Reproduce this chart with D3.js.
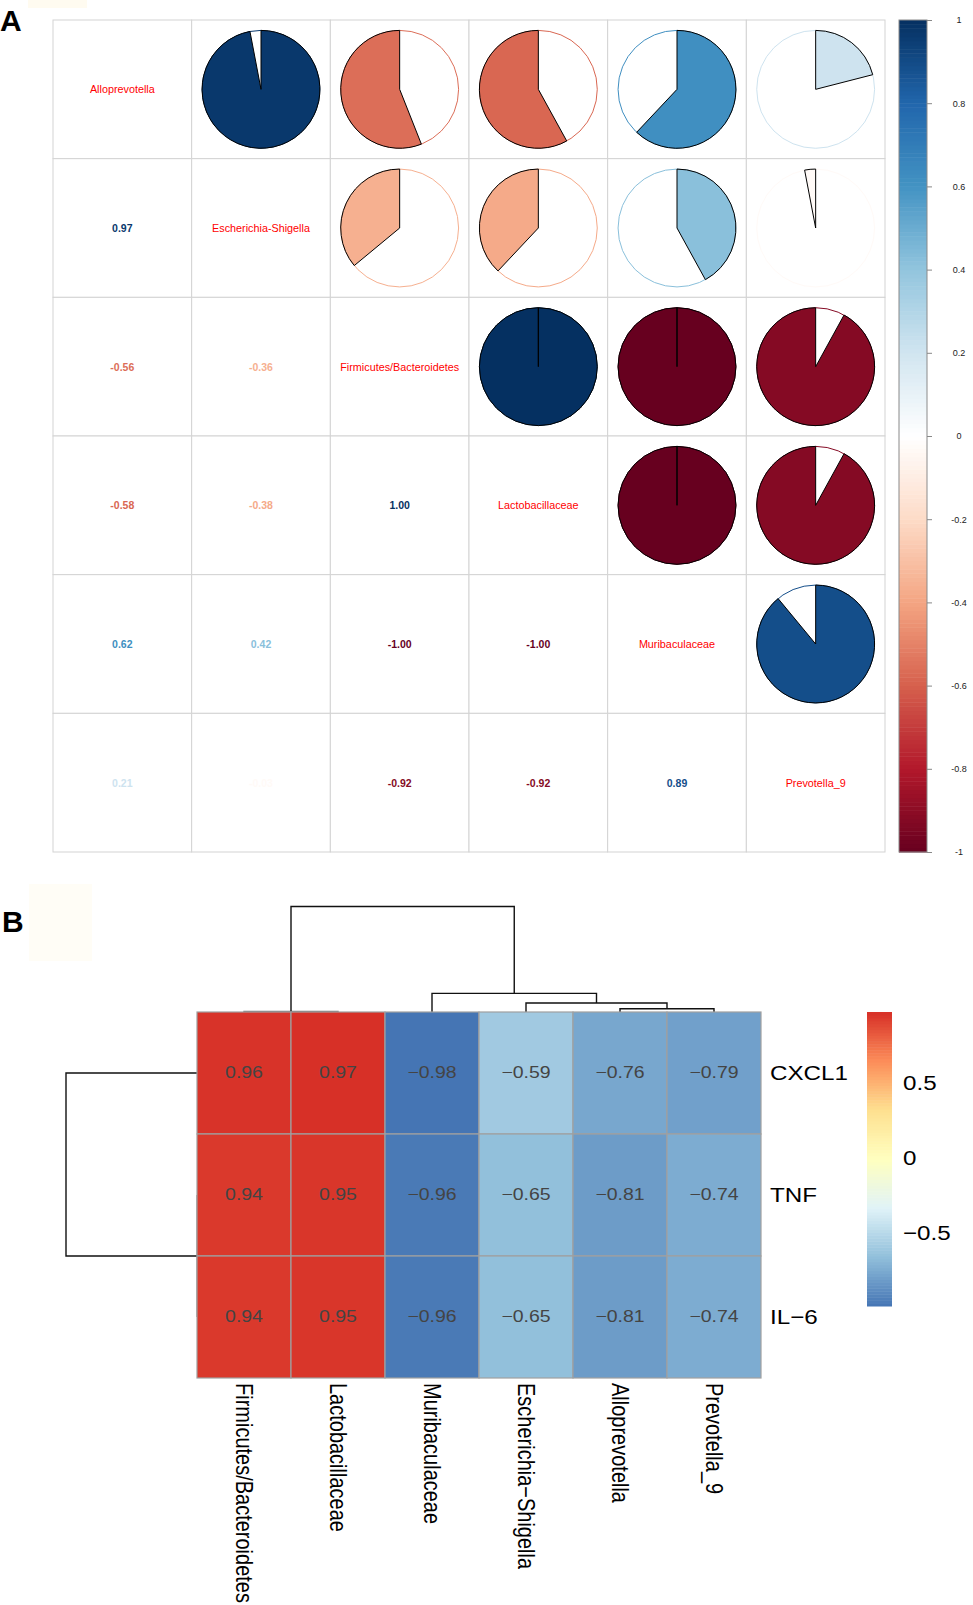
<!DOCTYPE html>
<html><head><meta charset="utf-8">
<script src="https://cdn.jsdelivr.net/npm/d3@7"></script>
<style>body{margin:0;background:#fff}svg{display:block}</style>
</head><body>
<script>
// ---------- Panel A data (corrplot) ----------
const varsA = ["Alloprevotella","Escherichia-Shigella","Firmicutes/Bacteroidetes","Lactobacillaceae","Muribaculaceae","Prevotella_9"];
const corrA = [
  [1.00, 0.97, -0.56, -0.58, 0.62, 0.21],
  [0.97, 1.00, -0.36, -0.38, 0.42, -0.03],
  [-0.56, -0.36, 1.00, 1.00, -1.00, -0.92],
  [-0.58, -0.38, 1.00, 1.00, -1.00, -0.92],
  [0.62, 0.42, -1.00, -1.00, 1.00, 0.89],
  [0.21, -0.03, -0.92, -0.92, 0.89, 1.00]
];
const legendTicksA = [1, 0.8, 0.6, 0.4, 0.2, 0, -0.2, -0.4, -0.6, -0.8, -1];
const corrColors = ["#67001F","#B2182B","#D6604D","#F4A582","#FDDBC7","#FFFFFF","#D1E5F0","#92C5DE","#4393C3","#2166AC","#053061"];

// ---------- Panel B data (pheatmap) ----------
const heatCols = ["Firmicutes/Bacteroidetes","Lactobacillaceae","Muribaculaceae","Escherichia-Shigella","Alloprevotella","Prevotella_9"];
const heatRows = ["CXCL1","TNF","IL-6"];
const heatVals = [
  [0.96, 0.97, -0.98, -0.59, -0.76, -0.79],
  [0.94, 0.95, -0.96, -0.65, -0.81, -0.74],
  [0.94, 0.95, -0.96, -0.65, -0.81, -0.74]
];
const heatColors = ["#4575B4","#91BFDB","#E0F3F8","#FFFFBF","#FEE090","#FC8D59","#D73027"];
const heatLegendTicks = [0.5, 0, -0.5];
// dendrogram merges (leaf index or "m<k>" reference, merge height)
const colMerges = [
  {a:0, b:1, h:0.017},
  {a:4, b:5, h:0.103},
  {a:3, b:"m1", h:0.285},
  {a:2, b:"m2", h:0.587},
  {a:"m0", b:"m3", h:3.33}
];
const rowMerges = [
  {a:1, b:2, h:0},
  {a:0, b:"m0", h:0.0975}
];

const W = 973, H = 1605;
const FONT = "'Liberation Sans', Arial, Helvetica, sans-serif";
const svg = d3.select("body").append("svg").attr("width", W).attr("height", H)
  .style("font-family", FONT);
svg.append("rect").attr("width", W).attr("height", H).attr("fill", "#fff");

// faint artefacts
svg.append("rect").attr("x",28).attr("y",0).attr("width",59).attr("height",8).attr("fill","#fffbf0");
svg.append("rect").attr("x",29).attr("y",884).attr("width",63).attr("height",77).attr("fill","#fffdf6");

// panel letters
svg.append("text").attr("x",0).attr("y",31).attr("font-size",30).attr("font-weight","bold").text("A");
svg.append("text").attr("x",2).attr("y",932).attr("font-size",30).attr("font-weight","bold").text("B");

// ================= Panel A =================
const ax0 = 53, ay0 = 20, aSize = 832;
const n = varsA.length;
const bx = d3.scaleBand().domain(d3.range(n)).range([ax0, ax0 + aSize]);
const by = d3.scaleBand().domain(d3.range(n)).range([ay0, ay0 + aSize]);
const cs = bx.bandwidth();
const colorA = d3.scaleLinear()
  .domain(d3.range(corrColors.length).map(i => -1 + i * 2 / (corrColors.length - 1)))
  .range(corrColors).interpolate(d3.interpolateRgb).clamp(true);

const gA = svg.append("g");
// grid
for (let i = 0; i < n; i++) for (let j = 0; j < n; j++) {
  gA.append("rect").attr("x", bx(j)).attr("y", by(i)).attr("width", cs).attr("height", cs)
    .attr("fill", "#fff").attr("stroke", "#d3d3d3").attr("stroke-width", 1);
}
function piePath(cx, cy, r, v) {
  const a = Math.abs(v) * 2 * Math.PI;
  const sweep = v >= 0 ? 1 : 0;
  const sgn = v >= 0 ? 1 : -1;
  const top = [cx, cy - r];
  if (Math.abs(v) >= 0.9999) {
    const bot = [cx, cy + r];
    return `M${cx},${cy}L${top[0]},${top[1]}A${r},${r} 0 1 ${sweep} ${bot[0]},${bot[1]}A${r},${r} 0 1 ${sweep} ${top[0]},${top[1]}Z`;
  }
  const ex = cx + sgn * r * Math.sin(a), ey = cy - r * Math.cos(a);
  const large = a > Math.PI ? 1 : 0;
  return `M${cx},${cy}L${top[0]},${top[1]}A${r},${r} 0 ${large} ${sweep} ${ex},${ey}Z`;
}
const rPie = cs * 0.425;
for (let i = 0; i < n; i++) for (let j = 0; j < n; j++) {
  const cx = bx(j) + cs / 2, cy = by(i) + cs / 2, v = corrA[i][j];
  if (i === j) {
    gA.append("text").attr("x", cx).attr("y", cy).attr("text-anchor", "middle")
      .attr("dominant-baseline", "central").attr("font-size", 10.8).attr("fill", "#ff0000").text(varsA[i]);
  } else if (j > i) {
    const c = colorA(v);
    gA.append("circle").attr("cx", cx).attr("cy", cy).attr("r", rPie)
      .attr("fill", "#fff").attr("stroke", c).attr("stroke-width", 1);
    gA.append("path").attr("d", piePath(cx, cy, rPie, v)).attr("fill", c)
      .attr("stroke", "#000").attr("stroke-width", 1).attr("stroke-linejoin", "round");
  } else {
    gA.append("text").attr("x", cx).attr("y", cy).attr("text-anchor", "middle")
      .attr("dominant-baseline", "central").attr("font-size", 10.5).attr("font-weight", "bold")
      .attr("fill", colorA(v)).text(v.toFixed(2));
  }
}
// colour legend A
const cbX = 899, cbW = 28;
const yLegA = d3.scaleLinear().domain([-1, 1]).range([ay0 + aSize, ay0]);
const nb = 200;
for (let k = 0; k < nb; k++) {
  const lo = -1 + k * 2 / nb, hi = lo + 2 / nb;
  gA.append("rect").attr("x", cbX).attr("y", yLegA(hi)).attr("width", cbW)
    .attr("height", yLegA(lo) - yLegA(hi) + 0.5).attr("fill", colorA((lo + hi) / 2));
}
gA.append("rect").attr("x", cbX).attr("y", ay0).attr("width", cbW).attr("height", aSize)
  .attr("fill", "none").attr("stroke", "#8a8a8a").attr("stroke-width", 1);
const axA = gA.append("g").attr("transform", `translate(${cbX + cbW},0)`)
  .call(d3.axisRight(yLegA).tickValues(legendTicksA).tickSize(5).tickFormat(d => String(d)));
axA.select(".domain").remove();
axA.selectAll("line").attr("stroke", "#888");
axA.selectAll("text").attr("x", 32).attr("text-anchor", "middle").attr("font-size", 9)
  .attr("font-family", FONT).attr("fill", "#222");

// ================= Panel B =================
const SX = 1.18;
const hx0 = 197, hx1 = 761, hy0 = 1012, hy1 = 1378;
const xB = d3.scaleBand().domain(d3.range(heatCols.length)).range([hx0, hx1]);
const yB = d3.scaleBand().domain(d3.range(heatRows.length)).range([hy0, hy1]);
const ext = d3.extent(heatVals.flat());
const colorB = d3.scaleLinear()
  .domain(d3.range(heatColors.length).map(i => ext[0] + i * (ext[1] - ext[0]) / (heatColors.length - 1)))
  .range(heatColors).interpolate(d3.interpolateRgb);
const minus = s => s.replace(/-/g, "\u2212");
const gB = svg.append("g");

function sText(g, x, y, txt, size, rot) {
  const t = g.append("text").attr("transform", `translate(${x},${y}) scale(${SX},1)` + (rot ? ` rotate(${rot})` : ""))
    .attr("font-size", size).text(txt);
  return t;
}

// dendrograms
function layoutTree(merges, leafPos) {
  const nodes = {};
  const get = r => typeof r === "number" ? {p: leafPos(r), h: 0} : nodes[r];
  merges.forEach((m, i) => {
    const A = get(m.a), B = get(m.b);
    nodes["m" + i] = {p: (A.p + B.p) / 2, h: m.h, A, B};
  });
  return merges.map((m, i) => nodes["m" + i]);
}
const colTree = layoutTree(colMerges, j => xB(j) + xB.bandwidth() / 2);
const yDen = d3.scaleLinear().domain([0, d3.max(colMerges, d => d.h)]).range([hy0, 906.5]);
colTree.forEach(nd => {
  gB.append("path")
    .attr("d", `M${nd.A.p},${yDen(nd.A.h)}V${yDen(nd.h)}H${nd.B.p}V${yDen(nd.B.h)}`)
    .attr("fill", "none").attr("stroke", nd.h < 0.05 ? "#777" : "#111").attr("stroke-width", 1.4);
});
const rowTree = layoutTree(rowMerges, i => yB(i) + yB.bandwidth() / 2);
const xDen = d3.scaleLinear().domain([0, d3.max(rowMerges, d => d.h)]).range([hx0, 66]);
rowTree.forEach(nd => {
  gB.append("path")
    .attr("d", `M${xDen(nd.A.h)},${nd.A.p}H${xDen(nd.h)}V${nd.B.p}H${xDen(nd.B.h)}`)
    .attr("fill", "none").attr("stroke", nd.h === 0 ? "#999" : "#111").attr("stroke-width", 1.4);
});

// cells
heatVals.forEach((row, i) => row.forEach((v, j) => {
  gB.append("rect").attr("x", xB(j)).attr("y", yB(i)).attr("width", xB.bandwidth()).attr("height", yB.bandwidth())
    .attr("fill", colorB(v)).attr("stroke", "#a0a0a0").attr("stroke-width", 1.2);
}));
heatVals.forEach((row, i) => row.forEach((v, j) => {
  sText(gB, xB(j) + xB.bandwidth() / 2, yB(i) + yB.bandwidth() / 2, minus(v.toFixed(2)), 16.5)
    .attr("text-anchor", "middle").attr("dominant-baseline", "central").attr("fill", "#444");
}));
// row labels
heatRows.forEach((r, i) => {
  sText(gB, hx1 + 9, yB(i) + yB.bandwidth() / 2, minus(r), 20.5)
    .attr("dominant-baseline", "central").attr("fill", "#000");
});
// column labels
heatCols.forEach((c, j) => {
  sText(gB, xB(j) + xB.bandwidth() / 2, hy1 + 5, minus(c), 20, 90)
    .attr("dominant-baseline", "central").attr("fill", "#000");
});
// legend B
const lgX = 867, lgW = 25, lgTop = hy0, lgBot = 1306;
const yLegB = d3.scaleLinear().domain(ext).range([lgBot, lgTop]);
const nbB = 100;
for (let k = 0; k < nbB; k++) {
  const lo = ext[0] + k * (ext[1] - ext[0]) / nbB, hi = lo + (ext[1] - ext[0]) / nbB;
  gB.append("rect").attr("x", lgX).attr("y", yLegB(hi)).attr("width", lgW)
    .attr("height", yLegB(lo) - yLegB(hi) + 0.5).attr("fill", colorB((lo + hi) / 2));
}
heatLegendTicks.forEach(t => {
  sText(gB, lgX + lgW + 11, yLegB(t), minus(String(t)), 20.5)
    .attr("dominant-baseline", "central").attr("fill", "#000");
});
</script>
</body></html>
